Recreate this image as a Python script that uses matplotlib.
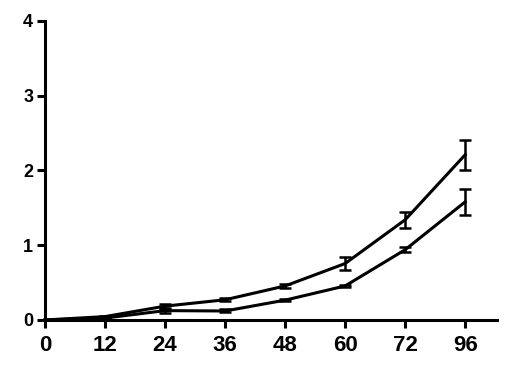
import matplotlib
matplotlib.use("Agg")
import matplotlib.pyplot as plt

time_labels = ["0", "12", "24", "36", "48", "60", "72", "96"]
upper_mean = [0.0, 0.045, 0.185, 0.27, 0.455, 0.755, 1.34, 2.21]
upper_err = [0.0, 0.01, 0.035, 0.02, 0.025, 0.085, 0.105, 0.2]
lower_mean = [0.0, 0.025, 0.125, 0.12, 0.265, 0.455, 0.94, 1.58]
lower_err = [0.0, 0.01, 0.03, 0.02, 0.01, 0.01, 0.035, 0.17]
y_ticks = [0, 1, 2, 3, 4]

plt.rcParams['font.family'] = ['Liberation Sans', 'DejaVu Sans']
fig = plt.figure(figsize=(5.16, 3.8), dpi=100)
ax = fig.add_axes([0.0872, 0.158, 0.876, 0.7868])

x = list(range(len(time_labels)))
for m, e in [(upper_mean, upper_err), (lower_mean, lower_err)]:
    ax.errorbar(x, m, yerr=e, color='black', linewidth=2.2, elinewidth=1.8,
                capsize=4, capthick=1.8, clip_on=False, zorder=3)

ax.set_xlim(0, 7.53)
ax.set_ylim(0, 4)
ax.set_xticks(x)
ax.set_xticklabels(time_labels)
ax.set_yticks(y_ticks)
for s in ['top', 'right']:
    ax.spines[s].set_visible(False)
for s in ['left', 'bottom']:
    ax.spines[s].set_linewidth(2.2)
ax.tick_params(axis='both', width=2.2, length=5.5)
ax.tick_params(axis='x', labelsize=16, pad=5)
ax.tick_params(axis='y', labelsize=13, pad=3)
for lbl in ax.get_xticklabels() + ax.get_yticklabels():
    lbl.set_fontweight('bold')

fig.savefig("out.png", dpi=100)
